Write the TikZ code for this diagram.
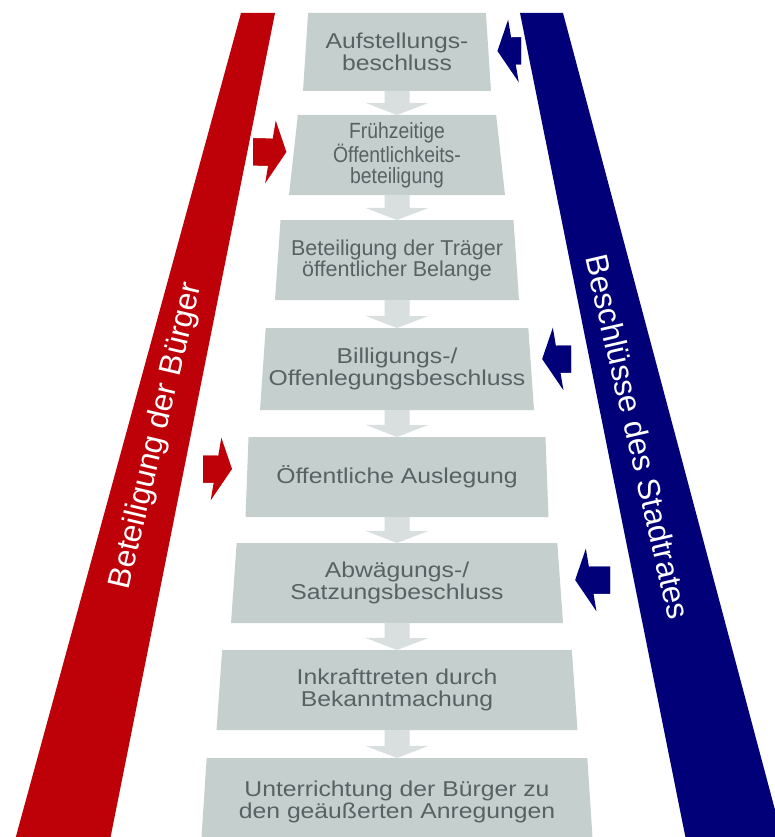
\documentclass[tikz,border=0pt]{standalone}
\usepackage{fontspec}
\setmainfont{Liberation Sans}
\newfontfamily\stagefont[FakeStretch=1.15]{Liberation Sans}
\newfontfamily\stagefontmid[FakeStretch=1.0]{Liberation Sans}
\newfontfamily\stagefontnarrow[FakeStretch=0.88]{Liberation Sans}
\usetikzlibrary{arrows.meta,shapes.geometric}

\begin{document}
\begin{tikzpicture}[x=1pt,y=-1pt]

\definecolor{bandred}{RGB}{190,0,8}
\definecolor{bandblue}{RGB}{2,0,120}
\definecolor{stagegray}{RGB}{197,208,206}
\definecolor{flowgray}{RGB}{216,223,222}
\definecolor{stagetext}{RGB}{88,98,98}

% Fill background
\fill[white] (0,0) rectangle (774,837);
\useasboundingbox (0,0) rectangle (774,837);

\tikzset{
    stage/.style={
        trapezium, trapezium angle=82.3, trapezium stretches body,
        fill=stagegray, text=stagetext, inner sep=0pt, outer sep=0pt,
        align=center, font=\stagefont\fontsize{21.5}{22}\selectfont
    },
    flow/.style={
        draw=flowgray, line width=25pt,
        -{Triangle[width=62pt,length=12pt]}
    },
    citizen arrow/.style={
        draw=bandred, line width=27pt,
        -{Triangle[width=62pt,length=16pt,slant=.17]},
        postaction={draw=bandred, -, shorten >=12pt}
    },
    council arrow/.style={
        draw=bandblue, line width=27pt,
        -{Triangle[width=62pt,length=16pt,slant=-.17]},
        postaction={draw=bandblue, -, shorten >=12pt}
    },
    band label/.style={
        text=white, font=\fontsize{31.5}{36}\selectfont, inner sep=0pt
    }
}

% SIDE BANDS
\fill[bandred] (241,13) -- (275,13) -- (110,840) -- (15,840) -- cycle;
\fill[bandblue] (520,13) -- (563,13) -- (783,840) -- (686,840) -- cycle;

\node[band label, rotate=76.7] (citizens) at (157,436) {Beteiligung der Bürger};
\node[band label, rotate=-77] (council) at (638,437) {Beschlüsse des Stadtrates};

% STAGES (one trapezium per step, widening downwards)
\node[stage, minimum width=188pt, minimum height=78pt] (S1) at (397,52) {Aufstellungs-\\beschluss};
\node[stage, minimum width=216pt, minimum height=80pt,
      font=\stagefontnarrow\fontsize{22}{21}\selectfont] (S2) at (397,155) {Frühzeitige\\Öffentlichkeits-\\beteiligung};
\node[stage, minimum width=244pt, minimum height=80pt,
      font=\stagefontmid\fontsize{21.5}{20}\selectfont] (S3) at (397,260) {Beteiligung der Träger\\öffentlicher Belange};
\node[stage, minimum width=274pt, minimum height=82pt] (S4) at (397,369) {Billigungs-/\\Offenlegungsbeschluss};
\node[stage, minimum width=303pt, minimum height=80pt] (S5) at (397,477) {Öffentliche Auslegung};
\node[stage, minimum width=332pt, minimum height=80pt] (S6) at (397,583) {Abwägungs-/\\Satzungsbeschluss};
\node[stage, minimum width=361pt, minimum height=80pt] (S7) at (397,690) {Inkrafttreten durch\\Bekanntmachung};
\node[stage, minimum width=392pt, minimum height=87pt] (S8) at (397,801.5) {Unterrichtung der Bürger zu\\den geäußerten Anregungen};

% --- FLOW BETWEEN STAGES ---
\draw[flow] (S1) -- (S2);
\draw[flow] (S2) -- (S3);
\draw[flow] (S3) -- (S4);
\draw[flow] (S4) -- (S5);
\draw[flow] (S5) -- (S6);
\draw[flow] (S6) -- (S7);
\draw[flow] (S7) -- (S8);

% Citizens (red, from the left)
\coordinate (R2) at (253,152);
\coordinate (R5) at (203,469);
\draw[citizen arrow] (R2) -- ([xshift=-7pt,yshift=3pt]S2.west);
\draw[citizen arrow] (R5) -- ([xshift=-15pt,yshift=8pt]S5.west);

% Council decisions (blue, from the right)
\coordinate (B1) at (521,51);
\coordinate (B4) at (571,359);
\coordinate (B6) at (610,580);
\draw[council arrow] (B1) -- ([xshift=9pt,yshift=1pt]S1.east);
\draw[council arrow] (B4) -- ([xshift=11pt,yshift=10pt]S4.east);
\draw[council arrow] (B6) -- ([xshift=15pt,yshift=3pt]S6.east);

\end{tikzpicture}
\end{document}
